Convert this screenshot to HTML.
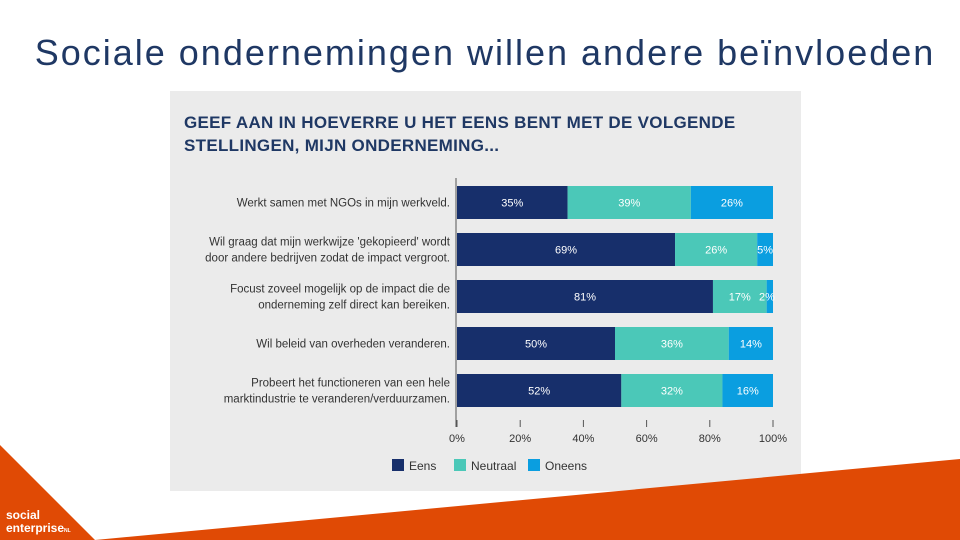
<!DOCTYPE html>
<html><head><meta charset="utf-8"><style>
body{margin:0;width:960px;height:540px;overflow:hidden;background:#fff;font-family:"Liberation Sans",sans-serif;position:relative}
#title{position:absolute;left:0;width:970px;top:32px;text-align:center;font-size:36px;color:#1f3864;letter-spacing:2px;white-space:nowrap}
svg{position:absolute;left:0;top:0}
</style></head><body>
<div id="title">Sociale ondernemingen willen andere beïnvloeden</div>
<svg id="s" width="960" height="540">
<rect x="170" y="91" width="631" height="400" fill="#ebebeb"/>
<text x="184" y="128" font-size="17" font-weight="bold" fill="#1f3864" letter-spacing="0.3">GEEF AAN IN HOEVERRE U HET EENS BENT MET DE VOLGENDE</text>
<text x="184" y="151" font-size="17" font-weight="bold" fill="#1f3864" letter-spacing="0.3">STELLINGEN, MIJN ONDERNEMING...</text>
<g id="bars"></g>
<polygon points="0,445 95,540 0,540" fill="#e04a05"/>
<polygon points="95,540 960,459 960,540" fill="#e04a05"/>
<text x="6" y="519" font-size="12" fill="#fff" font-weight="bold">social</text>
<text x="6" y="532" font-size="12" fill="#fff" font-weight="bold">enterprise<tspan font-size="5">NL</tspan></text>
</svg>
<script>
const categories=[["Werkt samen met NGOs in mijn werkveld."],["Wil graag dat mijn werkwijze 'gekopieerd' wordt","door andere bedrijven zodat de impact vergroot."],["Focust zoveel mogelijk op de impact die de","onderneming zelf direct kan bereiken."],["Wil beleid van overheden veranderen."],["Probeert het functioneren van een hele","marktindustrie te veranderen/verduurzamen."]];
const eens=[35,69,81,50,52];
const neutraal=[39,26,17,36,32];
const oneens=[26,5,2,14,16];
const ticks=[0,20,40,60,80,100];
const seriesNames=["Eens","Neutraal","Oneens"];
const colors=["#172f6b","#4bc8b8","#0a9ee0"];
const NS="http://www.w3.org/2000/svg";
const g=document.getElementById('bars');
const x0=457,x1=773;
const xs=v=>x0+(x1-x0)*v/100;
const rowY=i=>186+i*47, bh=33;
function mk(t,a){const e=document.createElementNS(NS,t);for(const k in a)e.setAttribute(k,a[k]);g.appendChild(e);return e;}
const series=[eens,neutraal,oneens];
categories.forEach((lines,i)=>{
  let acc=0;const y=rowY(i);
  series.forEach((arr,s)=>{
    const v=arr[i];
    const r=mk('rect',{x:xs(acc),y:y,width:xs(acc+v)-xs(acc),height:bh,fill:colors[s]});
    
    
    let cx=(xs(acc)+xs(acc+v))/2;
    if(v<8)cx=Math.min(cx,x1-6);
    const t=mk('text',{x:cx,y:y+bh/2+4,'font-size':11,fill:'#fff','text-anchor':'middle'});
    t.textContent=v+'%';
    
    
    acc+=v;
  });
  const n=lines.length;
  lines.forEach((ln,k)=>{
    const t=mk('text',{x:450,y:y+bh/2+4+(k-(n-1)/2)*16,'font-size':11.5,fill:'#333','text-anchor':'end'});
    t.textContent=ln;
    
    
  });
});
const ax=mk('line',{x1:x0-1,y1:178,x2:x0-1,y2:427,stroke:'#555','stroke-width':1});


ticks.forEach(v=>{
  const l=mk('line',{x1:xs(v),y1:420,x2:xs(v),y2:427,stroke:'#555'});
  
  
  const t=mk('text',{x:xs(v),y:442,'font-size':11,fill:'#333','text-anchor':'middle'});
  t.textContent=v+'%';
  
  
});
const lx=[392,454,528];
seriesNames.forEach((nm,s)=>{
  const r=mk('rect',{x:lx[s],y:459,width:12,height:12,fill:colors[s]});
  
  
  const t=mk('text',{x:lx[s]+17,y:470,'font-size':12,fill:'#333'});
  t.textContent=nm;
  
  
});
</script>
</body></html>
